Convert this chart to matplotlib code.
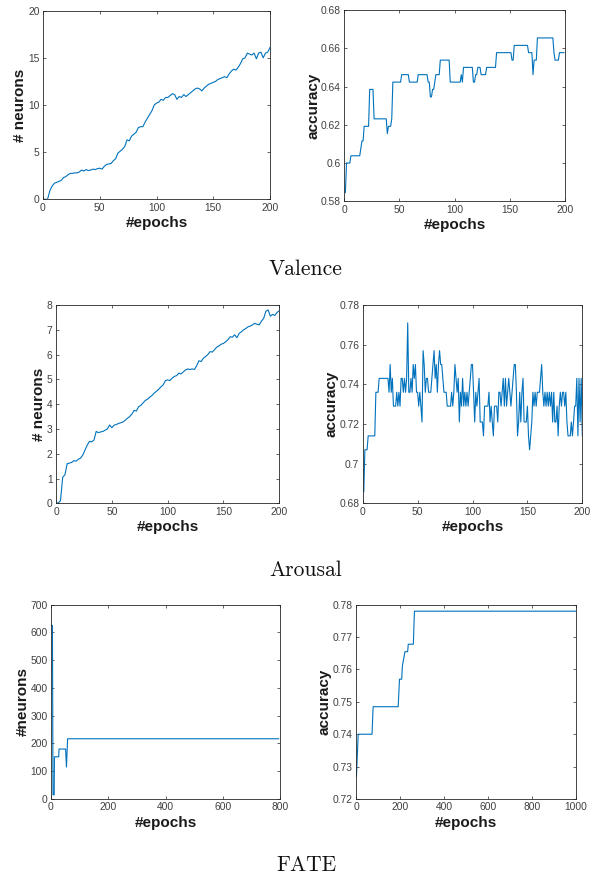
import numpy as np
import matplotlib
matplotlib.use("Agg")
import matplotlib.pyplot as plt
from matplotlib.ticker import FormatStrFormatter, FixedLocator

# ---------------- data ----------------
# Valence: number of neurons (every 2 epochs, 0..200)
val_neu_epochs = list(range(0, 201, 2))
val_neurons = [0, 0, 0, 0.9, 1.4, 1.7, 1.8, 1.9, 2.0, 2.3, 2.4, 2.6, 2.75, 2.75, 2.8, 2.8,
               2.9, 3.1, 3.0, 3.15, 3.05, 3.1, 3.2, 3.15, 3.25, 3.3, 3.2, 3.5, 3.7, 3.75,
               3.8, 4.1, 4.3, 4.9, 5.1, 5.3, 5.6, 6.3, 6.2, 6.7, 6.9, 7.1, 7.6, 7.7, 7.7,
               8.2, 8.6, 9.0, 9.4, 10.0, 10.2, 10.3, 10.6, 10.5, 10.8, 10.8, 11.0, 11.2,
               11.1, 10.6, 10.9, 10.8, 11.1, 10.9, 11.1, 11.3, 11.5, 11.7, 11.8, 11.7,
               11.5, 11.8, 12.0, 12.2, 12.3, 12.4, 12.5, 12.7, 12.8, 12.9, 13.0, 12.9,
               13.3, 13.6, 13.8, 13.7, 14.0, 14.4, 14.9, 15.0, 15.5, 15.4, 15.3, 15.5,
               14.9, 15.5, 15.6, 15.0, 15.5, 15.6, 16.1]

# Valence: accuracy per epoch (1..200)
val_accuracy = ([0.5846, 0.6, 0.6, 0.6, 0.6] + [0.6038] * 9 + [0.6077, 0.6115, 0.6115]
                + [0.6192] * 5 + [0.6385] * 4 + [0.6231] * 12 + [0.6154, 0.6192, 0.6192,
                0.6192, 0.6231] + [0.6423] * 8 + [0.6462] * 7 + [0.6423] * 8 + [0.6462] * 9
                + [0.6423, 0.6423, 0.6346, 0.6346, 0.6385, 0.6385, 0.6423] + [0.6462] * 4
                + [0.6538] * 9 + [0.6423] * 10 + [0.6462, 0.6423] + [0.65] * 9
                + [0.6423, 0.6423, 0.6462, 0.6462] + [0.65] * 3 + [0.6462] * 5 + [0.65] * 9
                + [0.6577] * 14 + [0.6538, 0.6538] + [0.6615] * 13 + [0.6577] * 4
                + [0.6462, 0.6538, 0.6538, 0.6538] + [0.6654] * 15 + [0.6577]
                + [0.6538] * 4 + [0.6577] * 5)

# Arousal: number of neurons (every 2 epochs, 0..200)
aro_neu_epochs = list(range(0, 201, 2))
aro_neurons = [0, 0.02, 0.1, 1.05, 1.15, 1.6, 1.62, 1.65, 1.72, 1.7, 1.78, 1.82, 1.95,
               2.15, 2.35, 2.5, 2.48, 2.55, 2.9, 2.85, 2.88, 2.9, 2.95, 3.0, 3.16, 3.05,
               3.15, 3.18, 3.22, 3.25, 3.28, 3.35, 3.43, 3.5, 3.6, 3.75, 3.72, 3.9, 3.95,
               4.05, 4.15, 4.2, 4.28, 4.35, 4.45, 4.52, 4.6, 4.7, 4.78, 4.95, 4.98, 4.95,
               5.05, 5.12, 5.15, 5.25, 5.22, 5.3, 5.38, 5.42, 5.4, 5.42, 5.4, 5.55, 5.75,
               5.72, 5.85, 5.92, 6.0, 6.12, 6.1, 6.2, 6.3, 6.35, 6.42, 6.45, 6.52, 6.6,
               6.72, 6.7, 6.8, 6.68, 6.85, 6.92, 7.0, 7.05, 7.12, 7.15, 7.2, 7.26, 7.22,
               7.2, 7.35, 7.46, 7.75, 7.8, 7.55, 7.62, 7.58, 7.7, 7.77]

# Arousal: accuracy per epoch (1..200)
aro_accuracy = [0.686, 0.707, 0.707, 0.707, 0.714, 0.714, 0.714, 0.714, 0.714, 0.714,
                0.714, 0.736, 0.736, 0.736, 0.743, 0.743, 0.743, 0.743, 0.743, 0.743,
                0.743, 0.743, 0.743, 0.736, 0.750, 0.736, 0.743, 0.729, 0.729, 0.729,
                0.736, 0.729, 0.736, 0.729, 0.743, 0.743, 0.736, 0.743, 0.736, 0.743,
                0.771, 0.736, 0.736, 0.743, 0.736, 0.750, 0.743, 0.750, 0.736, 0.736,
                0.729, 0.736, 0.729, 0.721, 0.757, 0.750, 0.736, 0.743, 0.743, 0.736,
                0.736, 0.736, 0.743, 0.750, 0.757, 0.743, 0.750, 0.736, 0.750, 0.757,
                0.750, 0.750, 0.743, 0.736, 0.736, 0.736, 0.729, 0.729, 0.729, 0.729,
                0.736, 0.729, 0.736, 0.750, 0.743, 0.736, 0.743, 0.721, 0.736, 0.729,
                0.743, 0.729, 0.736, 0.729, 0.736, 0.729, 0.736, 0.743, 0.750, 0.750,
                0.736, 0.721, 0.736, 0.729, 0.736, 0.743, 0.721, 0.721, 0.721, 0.714,
                0.729, 0.729, 0.729, 0.729, 0.736, 0.721, 0.729, 0.721, 0.714, 0.729,
                0.729, 0.729, 0.721, 0.736, 0.736, 0.729, 0.736, 0.743, 0.729, 0.743,
                0.729, 0.736, 0.743, 0.736, 0.729, 0.736, 0.743, 0.750, 0.750, 0.736,
                0.714, 0.721, 0.736, 0.721, 0.736, 0.743, 0.721, 0.721, 0.721, 0.729,
                0.714, 0.707, 0.714, 0.721, 0.736, 0.729, 0.736, 0.729, 0.736, 0.736,
                0.736, 0.743, 0.750, 0.736, 0.729, 0.736, 0.729, 0.736, 0.729, 0.736,
                0.729, 0.736, 0.721, 0.736, 0.721, 0.721, 0.729, 0.714, 0.729, 0.736,
                0.729, 0.736, 0.736, 0.729, 0.736, 0.721, 0.714, 0.714, 0.714, 0.721,
                0.714, 0.721, 0.729, 0.729, 0.743, 0.714, 0.743, 0.721, 0.743, 0.714]

# FATE: number of neurons (breakpoints)
fate_neu_epochs = [1, 5, 7, 11, 12, 27, 28, 51, 54, 58, 795]
fate_neurons = [625, 625, 15, 15, 152, 152, 180, 180, 115, 217, 217]

# FATE: accuracy (breakpoints)
fate_acc_epochs = [2, 10, 73, 78, 192, 198, 208, 211, 215, 223, 235, 238, 261, 263, 266, 1000]
fate_accuracy = [0.727, 0.740, 0.740, 0.7485, 0.7485, 0.757, 0.757, 0.761, 0.7626, 0.7655,
                 0.7655, 0.7678, 0.7678, 0.772, 0.778, 0.778]

group_titles = ["Valence", "Arousal", "FATE"]

# ---------------- figure ----------------
W, H = 591, 877
fig = plt.figure(figsize=(W / 100, H / 100), dpi=100)

LINE = "#0072BD"
AXC = "#262626"
TICKC = "#404040"
SANS = ["Liberation Sans", "DejaVu Sans"]


def px_axes(l, r, t, b):
    return fig.add_axes([l / W, 1 - b / H, (r - l) / W, (b - t) / H])


def style(ax, xlim, xticks, ylim, yticks, ylabel, fmt=None):
    ax.set_xlim(*xlim)
    ax.set_ylim(*ylim)
    ax.xaxis.set_major_locator(FixedLocator(xticks))
    ax.yaxis.set_major_locator(FixedLocator(yticks))
    if fmt:
        ax.yaxis.set_major_formatter(FormatStrFormatter(fmt))
    ax.tick_params(direction="in", length=2.5, width=0.5, top=True, right=True,
                   labelsize=7.4, colors=AXC, labelcolor=TICKC, pad=2.5)
    for lab in ax.get_xticklabels() + ax.get_yticklabels():
        lab.set_family(SANS)
    for s in ax.spines.values():
        s.set_linewidth(0.6)
        s.set_color(AXC)
    ax.set_xlabel("#epochs", fontsize=11, fontweight="bold", family=SANS,
                  color="#1a1a1a", labelpad=2.5)
    ax.set_ylabel(ylabel, fontsize=11, fontweight="bold", family=SANS,
                  color="#1a1a1a", labelpad=0.5)


# Valence
ax1 = px_axes(43, 270, 10.7, 199.3)
ax1.plot(val_neu_epochs, val_neurons, color=LINE, lw=0.8)
style(ax1, (0, 200), [0, 50, 100, 150, 200], (0, 20), [0, 5, 10, 15, 20], "# neurons", "%g")

ax2 = px_axes(344.3, 565, 10, 201.3)
ax2.plot(np.arange(1, len(val_accuracy) + 1), val_accuracy, color=LINE, lw=0.8)
style(ax2, (0, 200), [0, 50, 100, 150, 200], (0.58, 0.68),
      [0.58, 0.6, 0.62, 0.64, 0.66, 0.68], "accuracy", "%g")

# Arousal
ax3 = px_axes(56, 279.3, 305, 503.3)
ax3.plot(aro_neu_epochs, aro_neurons, color=LINE, lw=0.8)
style(ax3, (0, 200), [0, 50, 100, 150, 200], (0, 8), list(range(0, 9)), "# neurons", "%g")

ax4 = px_axes(362.7, 582.3, 305, 503.3)
ax4.plot(np.arange(1, len(aro_accuracy) + 1), aro_accuracy, color=LINE, lw=0.8)
style(ax4, (0, 200), [0, 50, 100, 150, 200], (0.68, 0.78),
      [0.68, 0.7, 0.72, 0.74, 0.76, 0.78], "accuracy", "%g")

# FATE
ax5 = px_axes(51, 280, 604.7, 799)
ax5.plot(fate_neu_epochs, fate_neurons, color=LINE, lw=0.8)
style(ax5, (0, 800), [0, 200, 400, 600, 800], (0, 700), list(range(0, 701, 100)),
      "#neurons", "%g")

ax6 = px_axes(356, 575.7, 604.7, 799)
ax6.plot(fate_acc_epochs, fate_accuracy, color=LINE, lw=0.8)
style(ax6, (0, 1000), [0, 200, 400, 600, 800, 1000], (0.72, 0.78),
      [0.72, 0.73, 0.74, 0.75, 0.76, 0.77, 0.78], "accuracy", "%g")

# group titles
SERIF = ["cmr10", "DejaVu Serif"]
for title, yb in zip(group_titles, [275, 576, 871]):
    fig.text(306 / W, 1 - yb / H, title, ha="center", va="baseline",
             fontsize=15.5, family=SERIF, color="#111111")

fig.savefig("out.png", dpi=100)
